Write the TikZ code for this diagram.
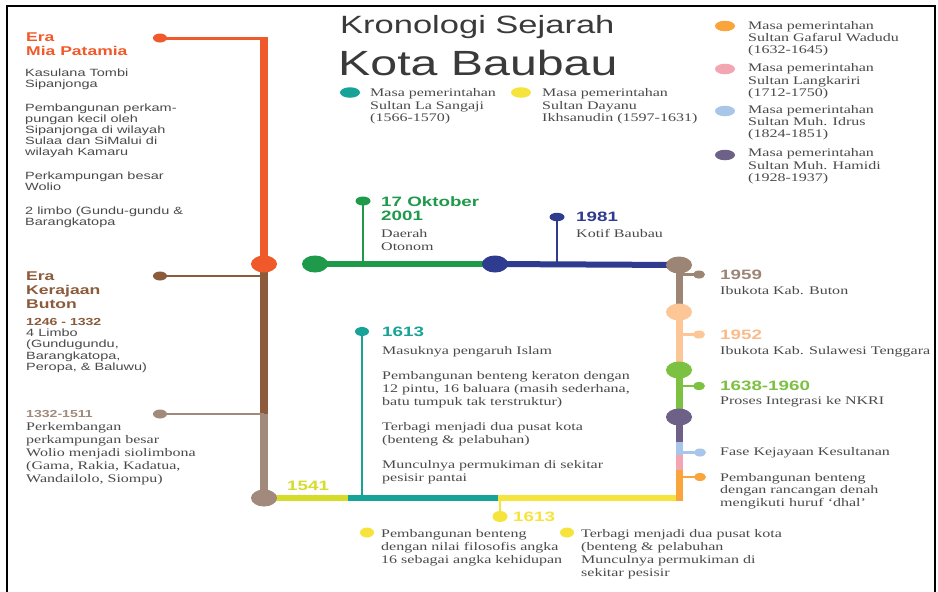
\documentclass[tikz,border=0pt]{standalone}
\usepackage{fontspec}
\setmainfont{Liberation Serif}[FakeStretch=1.38]
\newfontfamily\sansf{Liberation Sans}[FakeStretch=1.38]
\usetikzlibrary{shapes.geometric,backgrounds}

% stacked left-aligned lines; the baseline is that of the first line
\newcommand\lines[1]{\vtop{\lineskiplimit=-20pt\halign{##\hfil\cr#1\crcr}}}
\newcommand\pgap[1]{\noalign{\vskip#1}}

\definecolor{cOra}{HTML}{F05A2A}
\definecolor{cBrown}{HTML}{8B5B3B}
\definecolor{cTaupe}{HTML}{A18A7B}
\definecolor{cLime}{HTML}{D6DC2A}
\definecolor{cTeal}{HTML}{18A398}
\definecolor{cYel}{HTML}{F6E33C}
\definecolor{cOrTwo}{HTML}{F9A53B}
\definecolor{cPink}{HTML}{F3A6B1}
\definecolor{cLBlue}{HTML}{A8C6E9}
\definecolor{cPurp}{HTML}{6D6187}
\definecolor{cLGreen}{HTML}{7DC143}
\definecolor{cPeach}{HTML}{FDC696}
\definecolor{cPeachTxt}{HTML}{FBBA8A}
\definecolor{cTaupeR}{HTML}{9C8575}
\definecolor{cNavy}{HTML}{2E3B8E}
\definecolor{cGreen}{HTML}{1F9A4B}
\definecolor{txtg}{HTML}{4A4A4A}
\definecolor{titleg}{HTML}{3A3A3A}

\tikzset{
  bdot/.style={ellipse, fill=#1, draw=none, inner sep=0, minimum width=26, minimum height=17},
  sdot/.style={ellipse, fill=#1, draw=none, inner sep=0, minimum width=14, minimum height=9},
  rdot/.style={ellipse, fill=#1, draw=none, inner sep=0, minimum width=12, minimum height=8},
  legdot/.style={ellipse, fill=#1, draw=none, inner sep=0, minimum width=20, minimum height=10.5},
  thickline/.style={draw=#1, line width=7.5},
  topline/.style={draw=#1, line width=6},
  botline/.style={draw=#1, line width=5.5},
  stem/.style={draw=#1, line width=2.6},
  ser/.style={font=\fontsize{11.6}{13}\selectfont, text=txtg, anchor=base west, inner sep=0},
  serleg/.style={font=\fontsize{11.6}{12.3}\selectfont, text=txtg, anchor=base west, inner sep=0},
  sansbody/.style={font=\sansf\fontsize{10.5}{11.2}\selectfont, text=txtg, anchor=base west, inner sep=0},
  erahead/.style={font=\sansf\bfseries\fontsize{12.7}{14.2}\selectfont, text=#1, anchor=base west, inner sep=0},
  datehead/.style={font=\sansf\bfseries\fontsize{13.6}{14.7}\selectfont, text=#1, anchor=base west, inner sep=0},
  smallhead/.style={font=\sansf\bfseries\fontsize{10.2}{11}\selectfont, text=#1, anchor=base west, inner sep=0},
}

\begin{document}
\begin{tikzpicture}[x=1pt,y=-1pt]
\useasboundingbox (0,0) rectangle (938,592);

% ---------- title ----------
\node[anchor=base west, inner sep=0, text=titleg, font=\sansf\fontsize{25}{25}\selectfont] (title1) at (340,33) {Kronologi Sejarah};
\node[anchor=base west, inner sep=0, text=titleg, font=\sansf\fontsize{35}{35}\selectfont] (title2) at (338,75) {Kota Baubau};

% ---------- legend ----------
\node[legdot=cTeal] (lgTeal) at (350,92.5) {};
\node[serleg] (lgTealTxt) at (370,96.7) {\lines{Masa pemerintahan\cr Sultan La Sangaji\cr (1566-1570)}};
\node[legdot=cYel] (lgYel) at (521,92.5) {};
\node[serleg] (lgYelTxt) at (542,96.7) {\lines{Masa pemerintahan\cr Sultan Dayanu\cr Ikhsanudin (1597-1631)}};

\node[legdot=cOrTwo] (lgOra) at (725,26) {};
\node[serleg] (lgOraTxt) at (748,29.3) {\lines{Masa pemerintahan\cr Sultan Gafarul Wadudu\cr (1632-1645)}};
\node[legdot=cPink] (lgPink) at (725,69) {};
\node[serleg] (lgPinkTxt) at (748,71.7) {\lines{Masa pemerintahan\cr Sultan Langkariri\cr (1712-1750)}};
\node[legdot=cLBlue] (lgBlue) at (725,111) {};
\node[serleg] (lgBlueTxt) at (748,113.3) {\lines{Masa pemerintahan\cr Sultan Muh. Idrus\cr (1824-1851)}};
\node[legdot=cPurp] (lgPurp) at (725,155) {};
\node[serleg] (lgPurpTxt) at (748,156.7) {\lines{Masa pemerintahan\cr Sultan Muh. Hamidi\cr (1928-1937)}};

% ---------- left column: eras ----------
\node[sdot=cOra] (mpDot) at (160,38) {};
\coordinate (mpTop) at (264,38);
\coordinate (mpTopEdge) at (264,36.5);
\node[bdot=cOra] (orBig) at (264,264) {};
\node[sdot=cBrown] (kbDot) at (160,276) {};
\coordinate (kbJoin) at (264,276);
\node[sdot=cTaupe] (lbDot) at (160,414) {};
\coordinate (lbJoin) at (264,414);
\node[bdot=cTaupe] (tpBig) at (264,498) {};

\node[erahead=cOra] (eraMia) at (26,41.7) {\lines{Era\cr Mia Patamia}};
\node[sansbody] (miaTxt) at (25,76) {\lines{Kasulana Tombi\cr Sipanjonga\cr\pgap{12.6pt}Pembangunan perkam-\cr pungan kecil oleh\cr Sipanjonga di wilayah\cr Sulaa dan SiMalui di\cr wilayah Kamaru\cr\pgap{12.6pt}Perkampungan besar\cr Wolio\cr\pgap{12.6pt}2 limbo (Gundu-gundu \&\cr Barangkatopa}};

\node[erahead=cBrown] (eraButon) at (26,280) {\lines{Era\cr Kerajaan\cr Buton}};
\node[smallhead=cBrown] (yrA) at (26,325) {1246 - 1332};
\node[sansbody] (yrATxt) at (26,336.7) {\lines{4 Limbo\cr (Gundugundu,\cr Barangkatopa,\cr Peropa, \& Baluwu)}};
\node[smallhead=cTaupe] (yrB) at (26,417.7) {1332-1511};
\node[ser] (yrBTxt) at (26,430) {\lines{Perkembangan\cr perkampungan besar\cr Wolio menjadi siolimbona\cr (Gama, Rakia, Kadatua,\cr Wandailolo, Siompu)}};

% ---------- bottom line ----------
\coordinate (limeEnd) at (348,498);
\coordinate (tealEnd) at (498,498);
\coordinate (yelEnd) at (677,498);
\node[sdot=cTeal] (tlDot) at (362,331.5) {};
\node[sdot=cYel, minimum width=15, minimum height=11] (ylDot) at (500,516.5) {};

\node[datehead=cLime] (y1541) at (287,490) {1541};
\node[datehead=cTeal] (y1613a) at (382,336) {1613};
\node[ser] (y1613aTxt) at (382,354) {\lines{Masuknya pengaruh Islam\cr\pgap{12.5pt}Pembangunan benteng keraton dengan\cr 12 pintu, 16 baluara (masih sederhana,\cr batu tumpuk tak terstruktur)\cr\pgap{12pt}Terbagi menjadi dua pusat kota\cr (benteng \& pelabuhan)\cr\pgap{12.3pt}Munculnya permukiman di sekitar\cr pesisir pantai}};
\node[datehead=cYel] (y1613b) at (513,521) {1613};

\node[sdot=cYel, minimum height=10] (bl1) at (367,532.5) {};
\node[ser] (bl1Txt) at (381,537.5) {\lines{Pembangunan benteng\cr dengan nilai filosofis angka\cr 16 sebagai angka kehidupan}};
\node[sdot=cYel, minimum height=10] (bl2) at (567,532.5) {};
\node[ser] (bl2Txt) at (581,537.5) {\lines{Terbagi menjadi dua pusat kota\cr (benteng \& pelabuhan\cr Munculnya permukiman di\cr sekitar pesisir}};

% ---------- top line ----------
\node[bdot=cGreen] (gBig) at (315,264) {};
\node[bdot=cNavy] (nBig) at (495,264) {};
\node[bdot=cTaupeR] (tBig) at (679,265) {};
\node[sdot=cGreen, minimum width=15] (gSmall) at (363,201) {};
\node[sdot=cNavy, minimum width=15, minimum height=8.5] (nSmall) at (557,217) {};

\node[datehead=cGreen] (y2001) at (381,206) {\lines{17 Oktober\cr 2001}};
\node[serleg, font=\fontsize{11.6}{12.7}\selectfont] (y2001Txt) at (381,237.3) {\lines{Daerah\cr Otonom}};
\node[datehead=cNavy] (y1981) at (576,221.7) {1981};
\node[ser] (y1981Txt) at (576,237.3) {Kotif Baubau};

% ---------- right column ----------
\node[bdot=cPeach] (pBig) at (679,312) {};
\node[bdot=cLGreen] (lgBig) at (679,370) {};
\node[bdot=cPurp] (puBig) at (679,417) {};
\coordinate (puEnd) at (679,442);
\coordinate (lbEnd) at (679,455);
\coordinate (pkEnd) at (679,470);
\coordinate (orEnd) at (679,501);

\node[rdot=cTaupeR] (d1959) at (699,274.5) {};
\node[rdot=cPeach] (d1952) at (699,334.5) {};
\node[rdot=cLGreen] (d1638) at (699,386) {};
\node[rdot=cLBlue] (dFase) at (700,452.5) {};
\node[rdot=cOrTwo] (dDhal) at (700,477) {};

\node[datehead=cTaupeR] (y1959) at (720,279.3) {1959};
\node[ser] (y1959Txt) at (720,294.3) {Ibukota Kab. Buton};
\node[datehead=cPeachTxt] (y1952) at (720,339.3) {1952};
\node[ser] (y1952Txt) at (720,354.3) {Ibukota Kab. Sulawesi Tenggara};
\node[datehead=cLGreen] (y1638) at (720,390.7) {1638-1960};
\node[ser] (y1638Txt) at (720,404) {Proses Integrasi ke NKRI};
\node[ser] (faseTxt) at (720,455) {Fase Kejayaan Kesultanan};
\node[serleg, font=\fontsize{11.6}{12.4}\selectfont] (dhalTxt) at (720,481.5) {\lines{Pembangunan benteng\cr dengan rancangan denah\cr mengikuti huruf `dhal'}};

% ---------- connectors (behind the dots) ----------
\begin{pgfonlayer}{background}
  \fill[white] (0,0) rectangle (938,592);
  % left column
  \draw[stem=cOra, line width=3] (mpDot.center) -- (mpTop);
  \draw[thickline=cOra] (mpTopEdge) -- (orBig.center);
  \draw[thickline=cBrown] (orBig.center) -- (lbJoin);
  \draw[stem=cBrown] (kbDot.center) -- (kbJoin);
  \draw[thickline=cTaupe] (lbJoin) -- (tpBig.center);
  \draw[stem=cTaupe] (lbDot.center) -- (lbJoin);
  % bottom line
  \draw[botline=cLime] (tpBig.center) -- (limeEnd);
  \draw[botline=cTeal] (limeEnd) -- (tealEnd);
  \draw[botline=cYel] (tealEnd) -- (yelEnd);
  \draw[stem=cTeal] (tlDot.center) -- (tlDot.center |- tealEnd);
  \draw[stem=cYel] (ylDot.center) -- (ylDot.center |- tealEnd);
  % top line
  \draw[topline=cGreen] (gBig.center) -- (nBig.center);
  \draw[topline=cNavy] (nBig.center) -- (tBig.center);
  \draw[stem=cGreen] (gSmall.center) -- (gSmall.center |- gBig.center);
  \draw[stem=cNavy] (nSmall.center) -- (nSmall.center |- nBig.center);
  % right column
  \draw[thickline=cTaupeR, line width=7] (tBig.center) -- (pBig.center);
  \draw[thickline=cPeach, line width=7] (pBig.center) -- (lgBig.center);
  \draw[thickline=cLGreen, line width=7] (lgBig.center) -- (puBig.center);
  \draw[thickline=cPurp, line width=7] (puBig.center) -- (puEnd);
  \draw[thickline=cLBlue, line width=7] (puEnd) -- (lbEnd);
  \draw[thickline=cPink, line width=7] (lbEnd) -- (pkEnd);
  \draw[thickline=cOrTwo, line width=7] (pkEnd) -- (orEnd);
  \draw[stem=cTaupeR] (d1959.center) -- (d1959.center -| tBig.center);
  \draw[stem=cPeach] (d1952.center) -- (d1952.center -| tBig.center);
  \draw[stem=cLGreen] (d1638.center) -- (d1638.center -| tBig.center);
  \draw[stem=cLBlue] (dFase.center) -- (dFase.center -| tBig.center);
  \draw[stem=cOrTwo] (dDhal.center) -- (dDhal.center -| tBig.center);
  % frame
  \draw[black, line width=2] (7,592) -- (7,6) -- (935,6) -- (935,592);
\end{pgfonlayer}
\end{tikzpicture}
\end{document}
